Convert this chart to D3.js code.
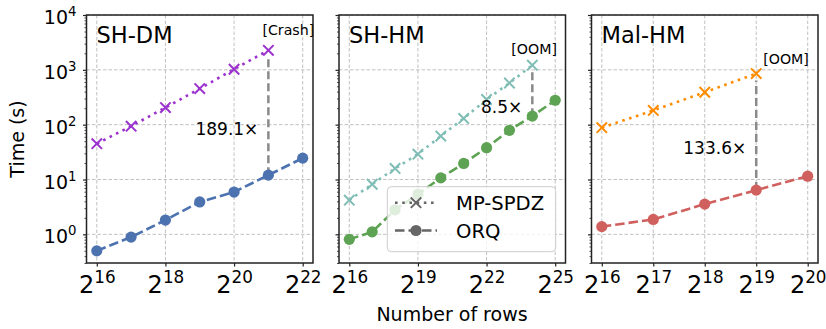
<!DOCTYPE html>
<html>
<head>
<meta charset="utf-8">
<script src="https://cdn.jsdelivr.net/npm/d3@7"></script>
<style>
  body { margin: 0; background: #fff; }
  svg { display: block; }
  text { font-family: "DejaVu Sans", sans-serif; fill: #000; }
</style>
</head>
<body>
<svg id="chart" width="826" height="329"></svg>
<script>
// ---- data: query time (seconds) vs. number of rows (as powers of two) ----
const panelTitles = ["SH-DM", "SH-HM", "Mal-HM"];
const seriesNames = ["MP-SPDZ", "ORQ"];

const shdmOrqExp = [16, 17, 18, 19, 20, 21, 22];
const shdmOrq = [0.5, 0.89, 1.82, 3.9, 5.9, 12.0, 24.5];
const shdmMpExp = [16, 17, 18, 19, 20, 21];
const shdmMp = [45, 94, 205, 455, 1025, 2269];

const shhmOrqExp = [16, 17, 18, 19, 20, 21, 22, 23, 24, 25];
const shhmOrq = [0.81, 1.11, 2.8, 5.4, 10.7, 19.6, 38, 79, 143, 279];
const shhmMpExp = [16, 17, 18, 19, 20, 21, 22, 23, 24];
const shhmMp = [4.2, 8.2, 15.9, 29, 62, 130, 288, 575, 1215];

const malhmOrqExp = [16, 17, 18, 19, 20];
const malhmOrq = [1.38, 1.87, 3.56, 6.4, 11.5];
const malhmMpExp = [16, 17, 18, 19];
const malhmMp = [88, 182, 390, 855];

const speedups = [189.1, 8.5, 133.6];
const failLabels = ["[Crash]", "[OOM]", "[OOM]"];

const xTickExps = [[16, 18, 20, 22], [16, 19, 22, 25], [16, 17, 18, 19, 20]];
const yTickExps = [0, 1, 2, 3, 4];
const yDomain = [0.3, 1e4];

// ---- layout & style ----
const plotTop = 15, plotBottom = 263;
const panelLeft = [86.5, 339, 591.5];
const panelWidth = 226.5;
const mpColors = ["#9b32cf", "#7fbdb5", "#ff8c00"];
const orqColors = ["#4c72b0", "#5ea353", "#d0605e"];
const failLabelOffset = [[-6, -20], [-21, -16], [7, -15]];
const spineColor = "#222";
const crossSize = 5.2;

const panels = [
  { mpExp: shdmMpExp, mp: shdmMp, orqExp: shdmOrqExp, orq: shdmOrq },
  { mpExp: shhmMpExp, mp: shhmMp, orqExp: shhmOrqExp, orq: shhmOrq },
  { mpExp: malhmMpExp, mp: malhmMp, orqExp: malhmOrqExp, orq: malhmOrq }
];

const svg = d3.select("#chart");
const y = d3.scaleLog().domain(yDomain).range([plotBottom, plotTop]);

function crossPath(s) {
  return `M${-s},${-s}L${s},${s}M${-s},${s}L${s},${-s}`;
}

// power-of-base label: base text plus raised exponent
function powerLabel(sel, base, exp, size, supSize, raise) {
  sel.append("tspan").attr("font-size", size).text(base);
  sel.append("tspan").attr("font-size", supSize).attr("dy", -raise).text(exp);
}

panels.forEach((p, i) => {
  const allExp = p.orqExp.concat(p.mpExp);
  const lo = d3.min(allExp), hi = d3.max(allExp);
  const pad = (hi - lo) * 0.05;
  const x = d3.scaleLinear().domain([lo - pad, hi + pad])
    .range([panelLeft[i], panelLeft[i] + panelWidth]);

  const g = svg.append("g");

  // grid
  const gridY = yTickExps.map(e => Math.pow(10, e));
  g.append("g").selectAll("line").data(gridY).join("line")
    .attr("x1", x.range()[0]).attr("x2", x.range()[1])
    .attr("y1", d => y(d)).attr("y2", d => y(d))
    .attr("stroke", "#b0b0b0").attr("stroke-width", 0.8)
    .attr("stroke-dasharray", "3.5,2");
  g.append("g").selectAll("line").data(xTickExps[i]).join("line")
    .attr("x1", d => x(d)).attr("x2", d => x(d))
    .attr("y1", plotTop).attr("y2", plotBottom)
    .attr("stroke", "#b0b0b0").attr("stroke-width", 0.8)
    .attr("stroke-dasharray", "3.5,2");

  // y axis ticks (major + log minor)
  const allYTicks = y.ticks().filter(v => v >= yDomain[0] && v <= yDomain[1]);
  const isMajor = v => Math.abs(Math.log10(v) - Math.round(Math.log10(v))) < 1e-9;
  const yAxis = g.append("g").attr("transform", `translate(${panelLeft[i]},0)`)
    .call(d3.axisLeft(y).tickValues(allYTicks).tickFormat("").tickSizeOuter(0));
  yAxis.select(".domain").remove();
  yAxis.selectAll(".tick line")
    .attr("x2", d => isMajor(d) ? -3.5 : -2)
    .attr("stroke", spineColor).attr("stroke-width", d => isMajor(d) ? 1.2 : 0.8);
  if (i === 0) {
    yAxis.selectAll(".tick").filter(d => isMajor(d)).each(function(d) {
      const t = d3.select(this).append("text")
        .attr("x", -10).attr("y", 8.6)
        .attr("text-anchor", "end").style("fill", "#000");
      powerLabel(t, "10", String(Math.round(Math.log10(d))), 19, 13.3, 8);
    });
  }

  // x axis ticks
  const xAxis = g.append("g").attr("transform", `translate(0,${plotBottom})`)
    .call(d3.axisBottom(x).tickValues(xTickExps[i]).tickFormat("").tickSizeOuter(0).tickSize(3.5));
  xAxis.select(".domain").remove();
  xAxis.selectAll(".tick line").attr("stroke", spineColor).attr("stroke-width", 1.2);
  xAxis.selectAll(".tick").each(function(d) {
    const t = d3.select(this).append("text")
      .attr("x", 0).attr("y", 29.7)
      .attr("text-anchor", "middle").style("fill", "#000");
    powerLabel(t, "2", String(d), 24, 16.8, 10);
  });

  // speedup marker: vertical dashed line at the last MP-SPDZ point
  const lastIdx = p.mpExp.length - 1;
  const failExp = p.mpExp[lastIdx];
  const mpVal = p.mp[lastIdx];
  const orqVal = p.orq[p.orqExp.indexOf(failExp)];
  g.append("line")
    .attr("x1", x(failExp)).attr("x2", x(failExp))
    .attr("y1", y(orqVal)).attr("y2", y(mpVal) + 7)
    .attr("stroke", "#8a8a8a").attr("stroke-width", 2.5)
    .attr("stroke-dasharray", "8,4");

  // MP-SPDZ series (dotted, crosses)
  const mpLine = d3.line().x((d, k) => x(p.mpExp[k])).y(d => y(d));
  g.append("path").datum(p.mp).attr("d", mpLine)
    .attr("fill", "none").attr("stroke", mpColors[i]).attr("stroke-width", 2.6)
    .attr("stroke-dasharray", "2.6,4.6");
  g.append("g").selectAll("path").data(p.mp).join("path")
    .attr("transform", (d, k) => `translate(${x(p.mpExp[k])},${y(d)})`)
    .attr("d", crossPath(crossSize))
    .attr("stroke", mpColors[i]).attr("stroke-width", 2).attr("fill", "none");

  // ORQ series (dashed, circles)
  const orqLine = d3.line().x((d, k) => x(p.orqExp[k])).y(d => y(d));
  g.append("path").datum(p.orq).attr("d", orqLine)
    .attr("fill", "none").attr("stroke", orqColors[i]).attr("stroke-width", 2.6)
    .attr("stroke-dasharray", "9.5,4");
  g.append("g").selectAll("circle").data(p.orq).join("circle")
    .attr("cx", (d, k) => x(p.orqExp[k])).attr("cy", d => y(d))
    .attr("r", 5.6).attr("fill", orqColors[i]);

  // speedup text
  const mid = Math.sqrt(mpVal * orqVal);
  g.append("text")
    .attr("x", x(failExp) - 10).attr("y", y(mid) + 16)
    .attr("dy", "0.35em").attr("text-anchor", "end")
    .attr("font-size", 17)
    .text(`${speedups[i].toFixed(1)}×`);

  // failure label above last MP-SPDZ point
  g.append("text")
    .attr("x", x(failExp) + failLabelOffset[i][0])
    .attr("y", y(mpVal) + failLabelOffset[i][1])
    .attr("dy", "0.35em")
    .attr("font-size", 14.2)
    .text(failLabels[i]);

  // panel title
  g.append("text")
    .attr("x", panelLeft[i] + 10).attr("y", 43.3)
    .attr("font-size", 22.5)
    .text(panelTitles[i]);

  // frame
  g.append("rect")
    .attr("x", panelLeft[i]).attr("y", plotTop)
    .attr("width", panelWidth).attr("height", plotBottom - plotTop)
    .attr("fill", "none").attr("stroke", spineColor).attr("stroke-width", 1.5);

  // legend in the middle panel
  if (i === 1) {
    const lg = g.append("g");
    lg.append("rect")
      .attr("x", 387.3).attr("y", 186.7).attr("width", 168.4).attr("height", 65)
      .attr("rx", 4)
      .attr("fill", "#fff").attr("fill-opacity", 0.8)
      .attr("stroke", "#cccccc").attr("stroke-width", 1);
    const rows = [
      { name: seriesNames[0], cy: 202.7, dash: "2.6,4.6", marker: "cross" },
      { name: seriesNames[1], cy: 230.5, dash: "9.5,4", marker: "circle" }
    ];
    rows.forEach(r => {
      lg.append("line")
        .attr("x1", 395).attr("x2", 437).attr("y1", r.cy).attr("y2", r.cy)
        .attr("stroke", "#666").attr("stroke-width", 2.6)
        .attr("stroke-dasharray", r.dash);
      if (r.marker === "cross") {
        lg.append("path").attr("transform", `translate(416,${r.cy})`)
          .attr("d", crossPath(crossSize)).attr("stroke", "#666").attr("stroke-width", 2);
      } else {
        lg.append("circle").attr("cx", 416).attr("cy", r.cy).attr("r", 5.6).attr("fill", "#666");
      }
      lg.append("text")
        .attr("x", 456).attr("y", r.cy + 7)
        .attr("font-size", 19.6)
        .text(r.name);
    });
  }
});

// axis titles
svg.append("text")
  .attr("transform", "translate(24,139) rotate(-90)")
  .attr("text-anchor", "middle").attr("font-size", 19)
  .text("Time (s)");
svg.append("text")
  .attr("x", 452).attr("y", 321)
  .attr("text-anchor", "middle").attr("font-size", 19)
  .text("Number of rows");
</script>
</body>
</html>
